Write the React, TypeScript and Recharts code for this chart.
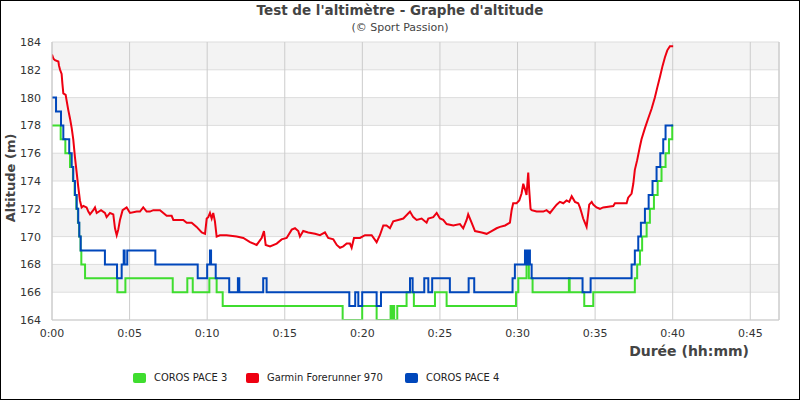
import React from "react"
import { LineChart, Line, XAxis, YAxis, CartesianGrid, ReferenceLine } from "recharts"

const xTicks = [0, 5, 10, 15, 20, 25, 30, 35, 40, 45]
const yTicks = [164, 166, 168, 170, 172, 174, 176, 178, 180, 182, 184]
const X_MAX = 46.85

// COROS PACE 3 (vert) : minutes / altitude (m), en escalier
const pace3Min = [
  0, 0.56, 0.86, 1.16, 1.22, 1.35, 1.46, 1.57, 1.67, 1.75, 1.84, 1.89, 2.13, 4.21, 4.73, 7.78, 8.72, 9.07,
  10.14, 10.61, 11.0, 18.73, 19.99, 20.92, 21.82, 21.9, 22.0, 22.05, 22.25, 22.85, 23.32, 24.68, 25.43,
  29.9, 30.05, 30.58, 30.73, 30.97, 33.31, 33.36, 34.3, 34.88, 37.56, 37.71, 37.89, 38.03, 38.32, 38.53,
  38.79, 39.03, 39.28, 39.54, 39.76, 39.97, 40.03,
]
const pace3Alt = [
  178, 177, 176, 175, 175, 174, 173, 172, 171, 170, 169, 168, 167, 166, 167, 166, 167, 166,
  167, 166, 165, 164, 165, 164, 165, 164, 165, 164, 165, 166, 165, 166, 165,
  166, 167, 168, 167, 166, 167, 166, 165, 166, 167, 168, 169, 170, 171, 172,
  173, 174, 175, 176, 177, 178, 178,
]

// Garmin Forerunner 970 (rouge)
const garminMin = [
  0, 0.09, 0.19, 0.41, 0.45, 0.52, 0.62, 0.67, 0.73, 0.88, 0.94, 1.05, 1.16, 1.27, 1.37, 1.48, 1.59, 1.69,
  1.8, 1.91, 2.02, 2.23, 2.34, 2.45, 2.66, 2.77, 2.88, 3.16, 3.41, 3.52, 3.74, 3.95, 4.06, 4.17, 4.27, 4.38,
  4.55, 4.81, 5.03, 5.46, 5.67, 5.88, 6.1, 6.31, 6.53, 6.96, 7.39, 7.71, 7.82, 8.25, 8.46, 8.68, 9.0, 9.32,
  9.65, 9.86, 9.97, 10.07, 10.18, 10.29, 10.39, 10.5, 10.61, 10.82, 11.25, 11.9, 12.33, 12.76, 13.19, 13.51,
  13.66, 13.77, 14.05, 14.48, 14.8, 15.12, 15.45, 15.66, 15.87, 15.98, 16.19, 16.51, 16.95, 17.27, 17.59,
  17.8, 18.13, 18.35, 18.56, 18.77, 18.99, 19.2, 19.31, 19.46, 19.85, 20.17, 20.6, 20.92, 21.13, 21.35,
  21.56, 21.78, 21.99, 22.31, 22.64, 23.07, 23.28, 23.5, 23.82, 24.14, 24.25, 24.57, 24.79, 25.0, 25.21,
  25.43, 25.86, 26.29, 26.5, 26.72, 26.82, 27.04, 27.26, 27.69, 28.01, 28.33, 28.65, 28.87, 29.2, 29.51,
  29.62, 29.72, 29.94, 30.11, 30.26, 30.37, 30.48, 30.58, 30.69, 30.75, 30.84, 30.91, 31.23, 31.66, 31.87,
  32.09, 32.3, 32.52, 32.73, 32.95, 33.16, 33.33, 33.49, 33.7, 33.91, 34.02, 34.13, 34.23, 34.34, 34.45,
  34.56, 34.62, 34.78, 34.88, 35.09, 35.31, 35.52, 36.17, 36.28, 37.03, 37.13, 37.35, 37.46, 37.56, 37.71,
  37.89, 37.99, 38.21, 38.42, 38.64, 38.85, 39.0, 39.18, 39.35, 39.5, 39.65, 39.82, 40.03,
]
const garminAlt = [
  183.1, 182.8, 182.7, 182.6, 182.3, 182.0, 181.7, 181.0, 180.3, 180.2, 179.8, 179.1, 178.5, 177.8, 177.0, 175.7, 174.6, 173.6,
  172.6, 172.1, 172.2, 172.1, 171.8, 171.6, 171.9, 172.1, 171.7, 171.9, 171.7, 171.4, 171.7, 171.6, 170.6, 170.1, 170.5, 171.2,
  171.9, 172.1, 171.7, 171.8, 171.8, 172.1, 171.8, 171.8, 171.9, 171.9, 171.5, 171.5, 171.2, 171.2, 171.2, 171.0, 171.0, 170.7,
  170.3, 170.2, 171.3, 171.4, 171.7, 171.3, 171.7, 171.1, 170.0, 170.1, 170.1, 170.0, 169.9, 169.6, 169.4, 169.9,
  170.4, 169.4, 169.3, 169.5, 169.8, 169.9, 170.5, 170.6, 170.4, 170.0, 170.4, 170.3, 170.2, 170.1, 170.3,
  169.9, 169.8, 169.4, 169.2, 169.3, 169.5, 169.5, 169.2, 169.9, 169.9, 170.1, 170.1, 169.6, 170.1, 170.8,
  170.8, 170.6, 171.1, 171.2, 171.3, 171.8, 171.4, 171.2, 171.3, 171.0, 171.3, 171.4, 171.7, 171.3, 171.2,
  170.9, 170.8, 170.9, 170.6, 171.2, 171.6, 171.0, 170.4, 170.3, 170.2, 170.4, 170.6, 170.7, 170.8, 171.0,
  171.9, 172.4, 172.4, 172.6, 173.1, 173.8, 173.4, 173.0, 174.6, 173.4, 172.0, 171.9, 171.8, 171.8, 171.9,
  171.7, 172.0, 172.3, 172.5, 172.4, 172.6, 172.5, 172.9, 172.5, 172.4, 172.1, 171.7, 171.3, 171.0, 170.7,
  171.7, 172.3, 172.5, 172.3, 172.1, 172.0, 172.1, 172.2, 172.4, 172.4, 172.8, 173.1, 173.8, 174.8, 175.5,
  176.5, 177.0, 177.8, 178.5, 179.2, 180.0, 180.7, 181.5, 182.3, 182.9, 183.4, 183.7, 183.7,
]

// COROS PACE 4 (bleu)
const pace4Min = [
  0, 0.26, 0.58, 0.73, 1.11, 1.27, 1.37, 1.48, 1.59, 1.69, 1.76, 1.85, 3.41, 4.19, 4.49, 4.62, 4.68, 4.85,
  6.66, 9.39, 10.0, 10.18, 10.25, 10.55, 11.42, 11.98, 12.07, 13.61, 13.83, 19.16, 19.54, 19.74, 19.99,
  20.92, 21.2, 23.07, 23.24, 23.99, 24.25, 24.5, 25.64, 26.85, 27.21, 29.68, 29.83, 30.48, 30.58, 30.69,
  30.8, 30.91, 34.19, 34.71, 37.35, 37.56, 37.78, 37.95, 38.21, 38.45, 38.7, 38.96, 39.2, 39.39, 39.54, 40.03,
]
const pace4Alt = [
  180, 179, 178, 177, 176, 175, 174, 173, 172, 171, 170, 169, 168, 167, 168, 169, 168, 169,
  168, 167, 168, 169, 168, 167, 166, 167, 166, 167, 166, 165, 166, 165, 166,
  165, 166, 167, 166, 167, 166, 167, 166, 167, 166, 167, 168, 169, 168, 169,
  168, 167, 166, 167, 168, 169, 170, 171, 172, 173, 174, 175, 176, 177, 178, 178,
]

const toPoints = (mins: number[], alts: number[]) => mins.map((t, i) => ({ t, alt: alts[i] }))

const series = [
  { name: "COROS PACE 3", color: "#3fdd2f", data: toPoints(pace3Min, pace3Alt), type: "stepAfter", legendX: 133 },
  { name: "Garmin Forerunner 970", color: "#ee0011", data: toPoints(garminMin, garminAlt), type: "linear", legendX: 246 },
  { name: "COROS PACE 4", color: "#0047bb", data: toPoints(pace4Min, pace4Alt), type: "stepAfter", legendX: 405 },
]

const font = "'DejaVu Sans', sans-serif"
const condensed = "'DejaVu Sans Condensed', 'DejaVu Sans', sans-serif"
const fmtTime = (m: number) => `0:${String(m).padStart(2, "0")}`

export default function App() {
  return (
    <div style={{ position: "relative", width: 800, height: 400, fontFamily: font, background: "#fff" }}>
      <style>{`body{margin:0}`}</style>
      <div style={{ position: "absolute", top: 2, left: 0, width: 800, textAlign: "center", fontSize: 13.5, fontWeight: "bold", color: "#444" }}>
        Test de l'altimètre - Graphe d'altitude
      </div>
      <div style={{ position: "absolute", top: 21, left: 0, width: 800, textAlign: "center", fontSize: 11, color: "#444" }}>
        (© Sport Passion)
      </div>
      <LineChart width={800} height={400} data={series[0].data} margin={{ top: 42, right: 21, bottom: 50, left: 0 }}>
        <CartesianGrid vertical={false} stroke="#dddddd" horizontalFill={["#f3f3f3", "#ffffff"]} />
        <CartesianGrid horizontal={false} stroke="#cccccc" />
        <XAxis
          type="number"
          dataKey="t"
          domain={[0, X_MAX]}
          ticks={xTicks}
          interval={0}
          tickFormatter={fmtTime}
          tickSize={0}
          tickMargin={9}
          height={30}
          axisLine={{ stroke: "#cccccc" }}
          tick={{ fill: "#333", fontSize: 11, fontFamily: font }}
          allowDataOverflow
        />
        <YAxis
          type="number"
          domain={[164, 184]}
          ticks={yTicks}
          interval={0}
          width={52}
          tickSize={0}
          tickMargin={11}
          axisLine={{ stroke: "#cccccc" }}
          tick={{ fill: "#333", fontSize: 11, fontFamily: font }}
          allowDataOverflow
        />
        <ReferenceLine x={X_MAX} stroke="#cccccc" />
        {series.map((s) => (
          <Line
            key={s.name}
            data={s.data}
            dataKey="alt"
            name={s.name}
            type={s.type as any}
            stroke={s.color}
            strokeWidth={2}
            dot={false}
            activeDot={false}
            isAnimationActive={false}
          />
        ))}
      </LineChart>
      <div style={{ position: "absolute", left: 10, top: 178, width: 0, height: 0 }}>
        <div style={{ position: "absolute", left: 0, top: 0, transform: "translate(-50%, -50%) rotate(-90deg)", whiteSpace: "nowrap", fontSize: 13, fontWeight: "bold", color: "#444" }}>
          Altitude (m)
        </div>
      </div>
      <div style={{ position: "absolute", top: 343, right: 51, fontSize: 14, fontWeight: "bold", color: "#444" }}>
        Durée (hh:mm)
      </div>
      {series.map((s) => (
        <div key={s.name} style={{ position: "absolute", top: 371, left: s.legendX, display: "flex", alignItems: "center", fontSize: 11, fontFamily: condensed, color: "#222" }}>
          <span style={{ display: "inline-block", width: 13, height: 10, borderRadius: 2, background: s.color, marginRight: 8 }} />
          <span>{s.name}</span>
        </div>
      ))}
      <div style={{ position: "absolute", inset: 0, border: "1px solid #000", pointerEvents: "none" }} />
    </div>
  )
}
